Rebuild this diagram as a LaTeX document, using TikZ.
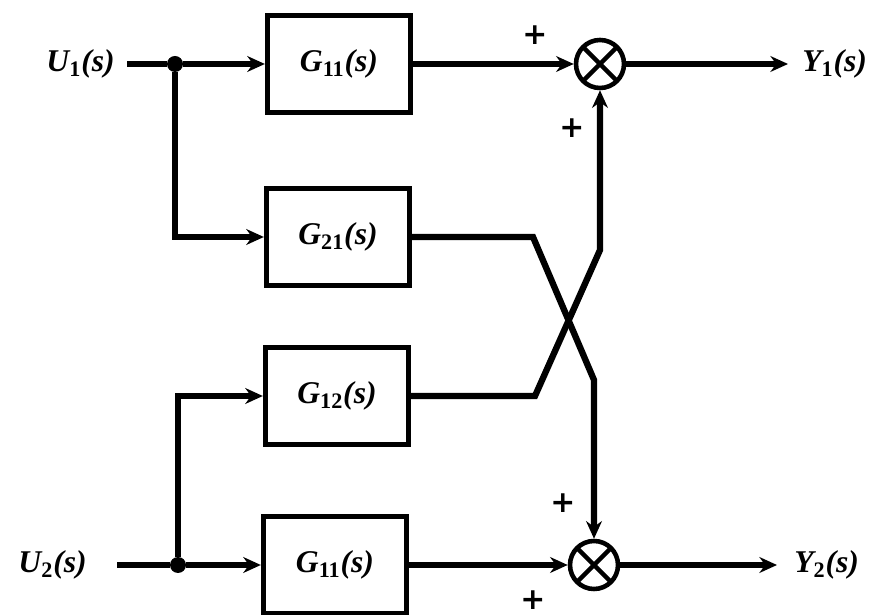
\documentclass[tikz,border=0pt]{standalone}
\usepackage{fontspec}
\setmainfont{Liberation Serif}
\newfontfamily\signfont{DejaVu Sans}
\usetikzlibrary{arrows.meta}

\newcommand{\lblfont}{\fontsize{18}{21}\selectfont\bfseries\itshape}
\newcommand{\idx}[1]{\textsubscript{\upshape #1}}

\begin{document}
\begin{tikzpicture}[
        block/.style={draw, rectangle, line width=3pt, minimum width=2.86cm, minimum height=1.94cm, align=center, font=\lblfont},
        sumnode/.style={draw, circle, line width=2.6pt, minimum size=0.96cm, inner sep=0pt,
            path picture={\draw[line width=2.6pt] (path picture bounding box.north west) -- (path picture bounding box.south east)
                (path picture bounding box.north east) -- (path picture bounding box.south west);}},
        dot/.style={circle, fill, minimum size=0.32cm, inner sep=0pt},
        signal/.style={line width=3.6pt, -{Stealth[length=10pt, width=9pt]}},
        thinsignal/.style={line width=3pt, -{Stealth[length=10pt, width=9pt]}},
        io/.style={font=\lblfont, inner ysep=0pt},
        sign/.style={font=\signfont\bfseries\fontsize{17}{19}\selectfont, inner sep=0pt}
    ]
    \useasboundingbox (0,0) rectangle (17.38,12.3);

    % inputs and branch points
    \node[io, anchor=east, inner xsep=0.24cm] (u1) at (2.54,11.02) {U\idx{1}(s)};
    \node[dot] (j1) at (3.5,11.02) {};
    \node[io, anchor=east, inner xsep=0.6cm] (u2) at (2.34,1.0) {U\idx{2}(s)};
    \node[dot] (j2) at (3.56,1.0) {};

    % blocks
    \node[block] (g11a) at (6.78,11.02) {G\idx{11}(s)};
    \node[block] (g21) at (6.76,7.56) {G\idx{21}(s)};
    \node[block] (g12) at (6.74,4.38) {G\idx{12}(s)};
    \node[block] (g11b) at (6.7,1.0) {G\idx{11}(s)};

    % summing points and outputs
    \node[sumnode] (s1) at (12.0,11.02) {};
    \node[sumnode] (s2) at (11.88,1.0) {};
    \node[io, anchor=west, inner xsep=0.28cm] (y1) at (15.76,11.02) {Y\idx{1}(s)};
    \node[io, anchor=west, inner xsep=0.34cm] (y2) at (15.54,1.0) {Y\idx{2}(s)};

    % signs
    \node[sign] (p1) at (10.7,11.6) {+};
    \node[sign] (p2) at (11.44,9.74) {+};
    \node[sign] (p3) at (11.26,2.24) {+};
    \node[sign] (p4) at (10.66,0.3) {+};

    % crossing bends
    \coordinate (a1) at (10.66,7.56);
    \coordinate (a2) at (11.88,4.7);
    \coordinate (b1) at (10.7,4.38);
    \coordinate (b2) at (12.0,7.3);

    \draw[signal] (u1) -- (j1) -- (g11a);
    \draw[signal] (j1) |- (g21);
    \draw[signal] (u2.east) -- (j2) -- (g11b);
    \draw[thinsignal] (j2) |- (g12);

    \draw[signal] (g11a) -- (s1);
    \draw[signal] (g11b) -- (s2);
    \draw[signal] (g21) -- (a1) -- (a2) -- (s2);
    \draw[signal] (g12) -- (b1) -- (b2) -- (s1);

    \draw[signal] (s1) -- (y1);
    \draw[signal] (s2) -- (y2);

\end{tikzpicture}
\end{document}
